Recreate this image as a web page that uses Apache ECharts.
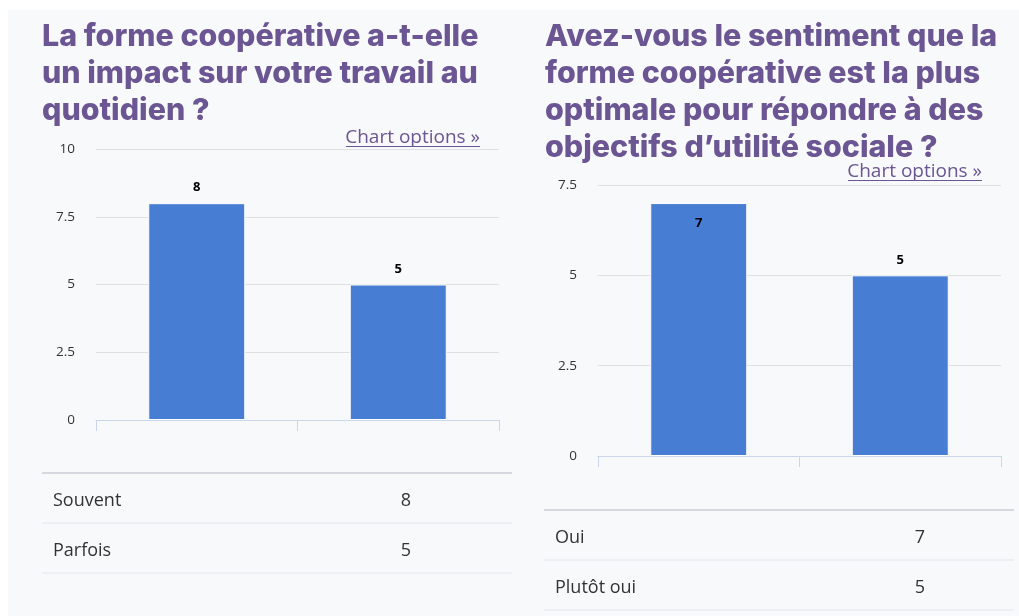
<!DOCTYPE html>
<html>
<head>
<meta charset="utf-8">
<script src="https://cdn.jsdelivr.net/npm/echarts@6/dist/echarts.min.js"></script>
<style>
html, body { margin: 0; padding: 0; background: #fff; }
#panel { position: absolute; left: 8px; top: 10px; right: 0; bottom: 0; background: #f8f9fb; }
#main { position: absolute; left: 0; top: 0; width: 1019px; height: 616px; }
</style>
</head>
<body>
<div id="panel"></div>
<div id="main"></div>
<script>
// question 1
var titre1 = 'La forme coopérative a-t-elle\nun impact sur votre travail au\nquotidien ?';
var categories1 = ['Souvent', 'Parfois'];
var valeurs1 = [8, 5];
var ticks1 = [0, 2.5, 5, 7.5, 10];

// question 2
var titre2 = 'Avez-vous le sentiment que la\nforme coopérative est la plus\noptimale pour répondre à des\nobjectifs d\u2019utilité sociale ?';
var categories2 = ['Oui', 'Plutôt oui'];
var valeurs2 = [7, 5];
var ticks2 = [0, 2.5, 5, 7.5];

var VIOLET = '#6b5592';
var BLEU = '#477dd3';
var TEXTE = '#333333';

var chart = echarts.init(document.getElementById('main'), null, { renderer: 'canvas' });

function titre(txt, x) {
    return {
        text: txt, left: x, top: 19, padding: 0,
        textStyle: { fontFamily: 'Inter', fontWeight: 800, fontSize: 30.4, lineHeight: 36.7, color: VIOLET }
    };
}

function axeX(idx, cats) {
    return {
        type: 'category', gridIndex: idx, data: cats,
        axisLine: { lineStyle: { color: '#ccd6eb', width: 1 } },
        axisTick: { show: true, length: 11, lineStyle: { color: '#ccd6eb' } },
        axisLabel: { show: false }
    };
}

function axeY(idx, ticks) {
    return {
        type: 'value', gridIndex: idx,
        min: ticks[0], max: ticks[ticks.length - 1], interval: ticks[1] - ticks[0],
        axisLine: { show: false }, axisTick: { show: false },
        splitLine: { lineStyle: { color: '#e0e0e0', width: 1 } },
        axisLabel: { color: TEXTE, fontSize: 13.5, fontFamily: 'Open Sans', margin: 21 }
    };
}

// etiquette dans la barre si elle touche le haut du graphique
function serie(idx, vals, ticks) {
    var max = ticks[ticks.length - 1];
    return {
        type: 'bar', xAxisIndex: idx, yAxisIndex: idx,
        barWidth: 97,
        itemStyle: { color: BLEU, borderColor: '#ffffff', borderWidth: 1 },
        label: { show: true, position: 'top', distance: 9, color: '#000', fontWeight: 'bold', fontSize: 13, fontFamily: 'Open Sans' },
        data: vals.map(function(v) {
            if (max - v < 1) {
                return { value: v, label: { position: 'insideTop', distance: 14 } };
            }
            return v;
        })
    };
}

// lien "Chart options »" (souligne)
function lien(xDroite, ySouligne, largeur) {
    return [
        { type: 'text', x: xDroite, y: ySouligne + 1,
          style: { text: 'Chart options \u00bb', fill: VIOLET, font: '19px "Open Sans"', align: 'right', verticalAlign: 'bottom' } },
        { type: 'line', shape: { x1: xDroite - largeur, y1: ySouligne, x2: xDroite, y2: ySouligne },
          style: { stroke: VIOLET, lineWidth: 1 } }
    ];
}

// tableau sous le graphique
function tableau(x1, x2, y0, xVal, cats, vals) {
    var els = [{ type: 'line', shape: { x1: x1, y1: y0, x2: x2, y2: y0 },
                 style: { stroke: '#d5d8de', lineWidth: 2 } }];
    cats.forEach(function(c, i) {
        var yc = y0 + 28 + i * 50;
        els.push({ type: 'text', x: x1 + 11, y: yc,
                   style: { text: c, fill: TEXTE, font: '18px "Open Sans"', verticalAlign: 'middle' } });
        els.push({ type: 'text', x: xVal, y: yc,
                   style: { text: String(vals[i]), fill: TEXTE, font: '18px "Open Sans"', align: 'center', verticalAlign: 'middle' } });
        els.push({ type: 'line', shape: { x1: x1, y1: y0 + 50 * (i + 1), x2: x2, y2: y0 + 50 * (i + 1) },
                   style: { stroke: '#e3e6ec', lineWidth: 1 } });
    });
    return els;
}

var option = {
    animation: false,
    title: [titre(titre1, 42), titre(titre2, 545)],
    grid: [
        { left: 96, right: 520, top: 149, bottom: 196 },
        { left: 598, right: 18, top: 185, bottom: 160 }
    ],
    xAxis: [axeX(0, categories1), axeX(1, categories2)],
    yAxis: [axeY(0, ticks1), axeY(1, ticks2)],
    series: [serie(0, valeurs1, ticks1), serie(1, valeurs2, ticks2)],
    graphic: [].concat(
        lien(480, 146.5, 134),
        lien(982, 180.5, 134),
        tableau(42, 512, 473, 406, categories1, valeurs1),
        tableau(544, 1014, 510, 920, categories2, valeurs2)
    )
};

chart.setOption(option);
</script>
</body>
</html>
